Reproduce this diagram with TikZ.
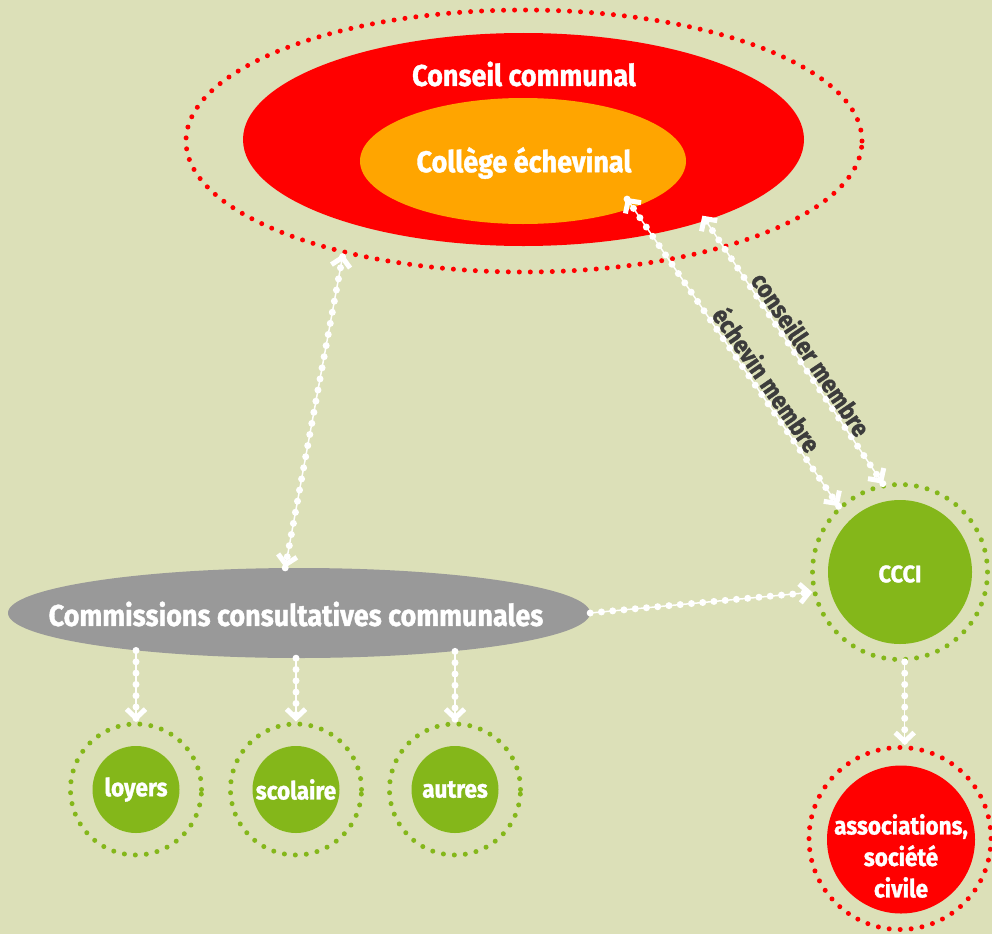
\documentclass[tikz,border=0pt]{standalone}
\usepackage{fontspec}
\usetikzlibrary{arrows.meta,shapes.geometric}
\newfontfamily\dessin{Fira Sans}[FakeStretch=0.9,BoldFeatures={FakeBold=1.2}]
\definecolor{pageback}{RGB}{220,224,184}
\definecolor{conseilred}{RGB}{255,0,0}
\definecolor{collegeorange}{RGB}{255,165,0}
\definecolor{commgrey}{RGB}{153,153,153}
\definecolor{cccigreen}{RGB}{132,183,26}
\definecolor{labelgrey}{RGB}{60,60,60}

\tikzset{
  chevron/.tip={Straight Barb[length=9pt,width=19pt,line width=5pt]},
  ovale/.style={ellipse,inner sep=0pt},
  rond/.style={circle,inner sep=0pt},
  pointille/.style={draw=#1,line width=5pt,line cap=round,dash pattern=on 0pt off 11pt},
  titre/.style={text=white,align=center,font=\dessin\bfseries\fontsize{#1}{#1}\selectfont},
  lien/.style={draw=white,line width=1.5pt,postaction={draw=white,-,line width=7pt,line cap=round,dash pattern=on 0pt off 11.3pt}},
  etiquette/.style={sloped,above,inner sep=2pt,text=labelgrey,font=\dessin\bfseries\fontsize{25}{25}\selectfont},
}

\begin{document}
\begin{tikzpicture}[x=1pt,y=-1pt]
\useasboundingbox (0,0) rectangle (992,934);
\fill[pageback] (0,0) rectangle (992,934);

% conseil et college
\node[ovale,pointille=conseilred,minimum width=676pt,minimum height=262pt] (conseilring) at (524,141) {};
\node[ovale,fill=conseilred,minimum width=561pt,minimum height=213pt] (conseil) at (523.5,139.5) {};
\node[titre=30] (conseiltxt) at (524,74) {Conseil communal};
\node[ovale,fill=collegeorange,minimum width=326pt,minimum height=126pt] (college) at (523,161) {};
\node[titre=30] (collegetxt) at (524,163) {Collège échevinal};

% commissions
\node[ovale,fill=commgrey,minimum width=582pt,minimum height=90pt] (comm) at (299,613) {};
\node[titre=30] (commtxt) at (296,614) {Commissions consultatives communales};

% CCCI et associations
\node[rond,pointille=cccigreen,minimum size=175pt] (cccering) at (900,572) {};
\node[rond,fill=cccigreen,minimum size=144pt] (ccci) at (cccering) {};
\node[titre=24] (cccitxt) at (900,574) {CCCI};
\node[rond,pointille=conseilred,minimum size=182pt] (assocring) at (900,838.5) {};
\node[rond,fill=conseilred,minimum size=148pt] (assoc) at (901,839.5) {};
\node[titre=25,font=\dessin\bfseries\fontsize{25}{31.5}\selectfont] (assoctxt) at (901,856) {associations,\\société\\civile};

% petites commissions
\foreach \nom/\x in {loyers/136,scolaire/296,autres/455} {
  \node[rond,pointille=cccigreen,minimum size=131pt] (\nom-ring) at (\x,789.5) {};
  \node[rond,fill=cccigreen,minimum size=87pt] (\nom) at (\x,789.5) {};
  \node[titre=25] (\nom-txt) at (\nom) {\nom};
}

% liens
\draw[lien,chevron-chevron] (comm.107) -- (conseilring.212.6);
\draw[lien,chevron-chevron,shorten >=-12pt] (cccering.133) -- (college.-23)
  node[etiquette,pos=0.4] {échevin membre};
\draw[lien,chevron-chevron,shorten >=-6pt] (cccering.101) -- (conseil.-24)
  node[etiquette,pos=0.465] {conseiller membre};
\draw[lien,-chevron] (comm.east) -- (cccering.193);
\draw[lien,-chevron] (loyers-ring.north |- comm.193) -- (loyers-ring.north);
\draw[lien,-chevron] (scolaire-ring.north |- comm.south) -- (scolaire-ring.north);
\draw[lien,-chevron] (autres-ring.north |- comm.-14) -- (autres-ring.north);
\draw[lien,-chevron] (cccering.-87) -- (cccering.-87 |- assocring.north);
\end{tikzpicture}
\end{document}
